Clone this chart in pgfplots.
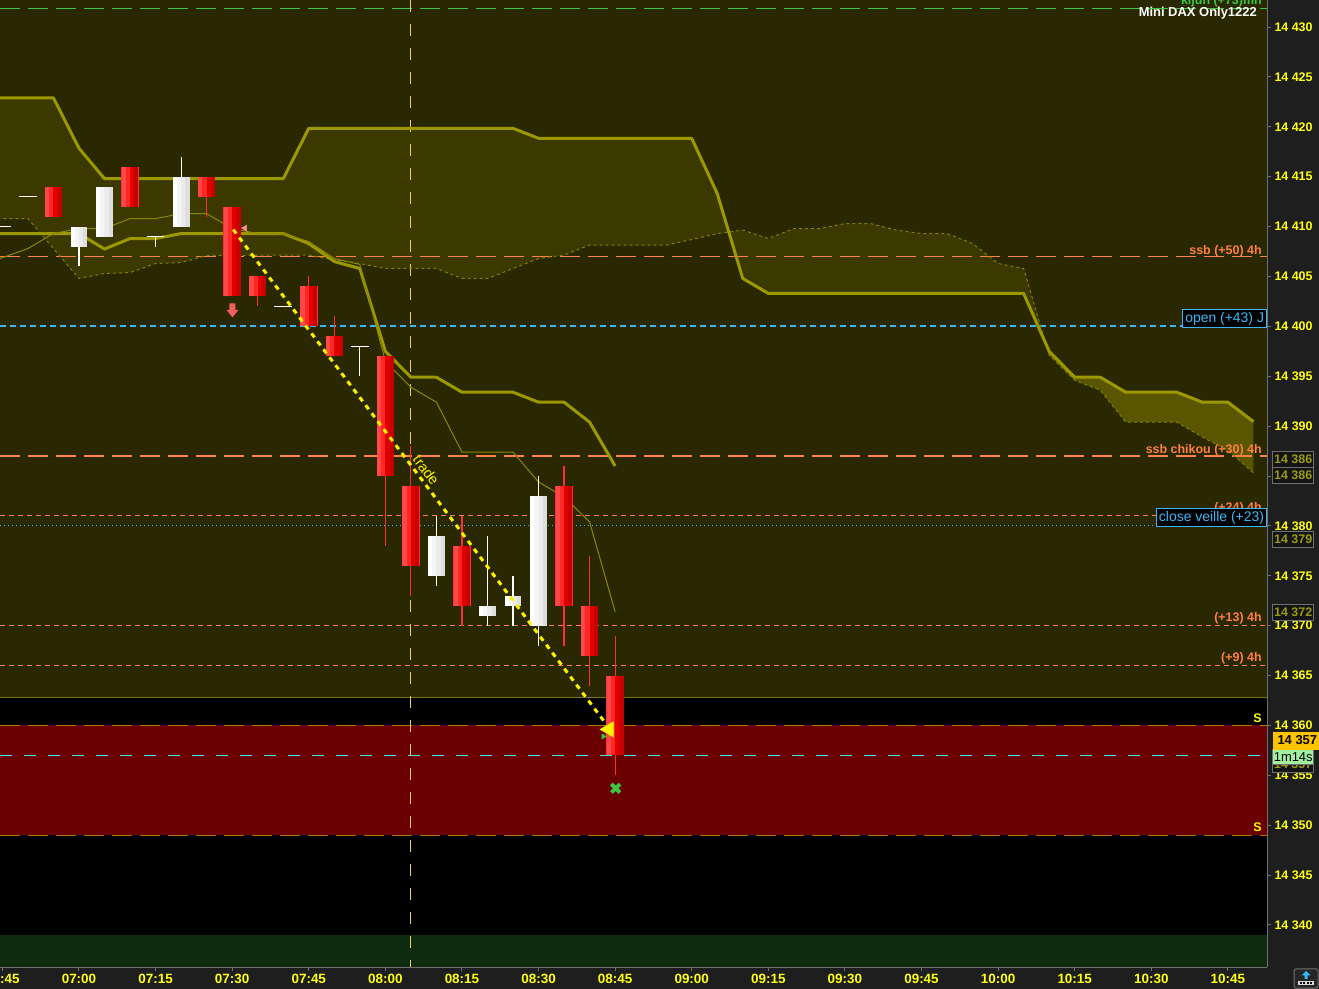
\documentclass[border=0pt]{standalone}
\usepackage{fontspec}
\setmainfont{Liberation Sans}
\usepackage{pgfplots}
\usepackage{pgfplotstable}
\pgfplotsset{compat=1.18}

\definecolor{axisbg}{HTML}{1E1E1E}
\definecolor{axisgray}{HTML}{707070}
\definecolor{olivebg}{HTML}{2A2800}
\definecolor{oliveedge}{HTML}{7A7620}
\definecolor{cloudA}{HTML}{3B3800}
\definecolor{cloudB}{HTML}{595500}
\definecolor{ssaline}{HTML}{9C9800}
\definecolor{ssbline}{HTML}{848000}
\definecolor{tenkanc}{HTML}{8C8700}
\definecolor{redzone}{HTML}{6B0000}
\definecolor{greenband}{HTML}{0F2B0F}
\definecolor{orangeline}{HTML}{FF8040}
\definecolor{bluec}{HTML}{3CB8F8}
\definecolor{cyanline}{HTML}{40E8F0}
\definecolor{goldline}{HTML}{B07800}
\definecolor{vline}{HTML}{F0D060}
\definecolor{tickyellow}{HTML}{FFFF10}
\definecolor{greenc}{HTML}{3CC83C}
\definecolor{redwick}{HTML}{FF3030}
\definecolor{tagtext}{HTML}{9A9A10}
\definecolor{arrowred}{HTML}{F06060}
\definecolor{timerbox}{HTML}{A0F0A0}
\definecolor{pricebox}{HTML}{FFC400}

\pgfdeclareplotmark{dnarrow}{%
  \pgfpathmoveto{\pgfpoint{-3bp}{7bp}}%
  \pgfpathlineto{\pgfpoint{3bp}{7bp}}%
  \pgfpathlineto{\pgfpoint{3bp}{0.5bp}}%
  \pgfpathlineto{\pgfpoint{6bp}{0.5bp}}%
  \pgfpathlineto{\pgfpoint{0bp}{-7bp}}%
  \pgfpathlineto{\pgfpoint{-6bp}{0.5bp}}%
  \pgfpathlineto{\pgfpoint{-3bp}{0.5bp}}%
  \pgfpathclose\pgfusepathqfill}

% Senkou span A (thick cloud edge)
\pgfplotstableread{
m p
-16 14422.9
-5 14422.9
0 14417.85
5 14414.8
40 14414.8
45 14419.85
85 14419.85
90 14418.85
120 14418.85
125 14413.3
130 14404.8
135 14403.3
185 14403.3
190 14397.5
195 14394.9
200 14394.9
205 14393.4
215 14393.4
220 14392.4
225 14392.4
230 14390.45
}\ssa

% Senkou span B (dashed cloud edge)
\pgfplotstableread{
m p
-16 14410.8
-10 14410.8
0 14404.8
5 14405.3
10 14405.4
15 14406.3
20 14406.4
25 14407.1
45 14407.15
50 14406.65
55 14406.3
60 14405.8
70 14405.8
75 14404.8
80 14404.8
85 14405.8
90 14406.8
95 14407.15
100 14408.15
115 14408.15
120 14408.7
125 14409.3
130 14409.65
135 14408.8
140 14409.8
145 14409.8
150 14410.3
155 14410.3
160 14409.65
165 14409.3
170 14409.3
175 14408.3
180 14406.3
185 14405.8
190 14397.1
195 14394.6
200 14393.6
205 14390.4
215 14390.4
220 14388.9
225 14387.6
230 14385.3
}\ssb

% cloud outlines (span A forward, span B back)
\pgfplotstableread{
m p
-16 14422.9
-5 14422.9
0 14417.85
5 14414.8
40 14414.8
45 14419.85
85 14419.85
90 14418.85
120 14418.85
125 14413.3
130 14404.8
135 14403.3
185 14403.3
190 14397.5
190 14397.1
185 14405.8
180 14406.3
175 14408.3
170 14409.3
165 14409.3
160 14409.65
155 14410.3
150 14410.3
145 14409.8
140 14409.8
135 14408.8
130 14409.65
125 14409.3
120 14408.7
115 14408.15
100 14408.15
95 14407.15
90 14406.8
85 14405.8
80 14404.8
75 14404.8
70 14405.8
60 14405.8
55 14406.3
50 14406.65
45 14407.15
25 14407.1
20 14406.4
15 14406.3
10 14405.4
5 14405.3
0 14404.8
-10 14410.8
-16 14410.8
}\cloudone

\pgfplotstableread{
m p
190 14397.5
195 14394.9
200 14394.9
205 14393.4
215 14393.4
220 14392.4
225 14392.4
230 14390.45
230 14385.3
225 14387.6
220 14388.9
215 14390.4
205 14390.4
200 14393.6
195 14394.6
190 14397.1
}\cloudtwo

\pgfplotstableread{
m p
-16 14409.3
0 14409.3
5 14407.75
10 14408.8
15 14408.8
20 14409.3
40 14409.3
45 14408.3
50 14406.5
55 14405.8
60 14397.5
65 14394.9
70 14394.9
75 14393.4
85 14393.4
90 14392.4
95 14392.4
100 14390.4
105 14386
}\kijun

\pgfplotstableread{
m p
-16 14406.7
-10 14407.8
-5 14409.3
0 14409.8
5 14409.8
10 14410.8
15 14410.8
20 14411.3
25 14411.3
30 14409.8
35 14409.3
40 14409.3
45 14408.5
50 14406.8
55 14406.2
60 14396.5
65 14393.9
70 14392.4
75 14387.4
85 14387.4
90 14384.4
95 14382.9
100 14380.4
105 14371.4
}\tenkan

% red candles: body open->close (minutes after 07:00)
\pgfplotstableread{
m p
-5 14414
-5 14411
nan nan
10 14416
10 14412
nan nan
25 14415
25 14413
nan nan
30 14412
30 14403
nan nan
35 14405
35 14403
nan nan
45 14404
45 14400
nan nan
50 14399
50 14397
nan nan
60 14397
60 14385
nan nan
65 14384
65 14376
nan nan
75 14378
75 14372
nan nan
95 14384
95 14372
nan nan
100 14372
100 14367
nan nan
105 14365
105 14357
}\redbody

% red candles: wick low->high
\pgfplotstableread{
m p
25 14411
25 14415
nan nan
35 14402
35 14405
nan nan
45 14400
45 14405
nan nan
50 14397
50 14401
nan nan
60 14378
60 14397
nan nan
65 14373
65 14388
nan nan
75 14370
75 14381
nan nan
95 14368
95 14386
nan nan
100 14364
100 14377
nan nan
105 14355
105 14369
}\redwickt

\pgfplotstableread{
m p
0 14408
0 14410
nan nan
5 14409
5 14414
nan nan
20 14410
20 14415
nan nan
70 14375
70 14379
nan nan
80 14371
80 14372
nan nan
85 14372
85 14373
nan nan
90 14370
90 14383
}\whitebody

\pgfplotstableread{
m p
0 14406
0 14410
nan nan
15 14408
15 14409
nan nan
20 14410
20 14417
nan nan
55 14395
55 14398
nan nan
70 14374
70 14381
nan nan
80 14370
80 14379
nan nan
85 14370
85 14375
nan nan
90 14368
90 14385
}\whitewickt

\pgfplotstableread{
m p
-15 14410
-10 14413
15 14409
40 14402
55 14398
}\doji

\newcommand\strip[4]{\addplot[#2, line width=#3, unbounded coords=jump] table[x expr=\thisrow{m}+(#1), y=p] {#4};}
\newcommand\levelline[2]{\addplot[#2] coordinates {(-15.47,#1) (232.66,#1)};}

\begin{document}
\begin{tikzpicture}
\fill[axisbg] (0,0) rectangle (1319bp,989bp);
\path[use as bounding box] (0,0) rectangle (1319bp,989bp);
\begin{axis}[
  at={(0bp,22bp)}, anchor=south west,
  scale only axis, width=1267bp, height=967bp,
  xmin=-15.47, xmax=232.66, ymin=14335.79, ymax=14432.71,
  axis x line*=bottom, axis y line*=right,
  axis line style={draw=axisgray, line width=1.2bp},
  tick align=outside, major tick length=4bp,
  tick style={draw=axisgray, line width=1bp},
  xtick={-15,0,...,225},
  xticklabels={06:45,07:00,07:15,07:30,07:45,08:00,08:15,08:30,08:45,09:00,09:15,09:30,09:45,10:00,10:15,10:30,10:45},
  ytick={14340,14345,...,14430},
  yticklabels={14 340,14 345,14 350,14 355,14 360,14 365,14 370,14 375,14 380,14 385,14 390,14 395,14 400,14 405,14 410,14 415,14 420,14 425,14 430},
  xticklabel style={font=\bfseries\fontsize{13.5}{15}\selectfont, text=tickyellow},
  yticklabel style={font=\bfseries\fontsize{12.5}{14}\selectfont, text=tickyellow},
  /pgf/number format/assume math mode=true,
]
% backgrounds
\fill[black] (axis cs:-15.47,14335.79) rectangle (axis cs:232.66,14432.71);
\fill[olivebg] (axis cs:-15.47,14362.85) rectangle (axis cs:232.66,14432.71);
\fill[redzone] (axis cs:-15.47,14349) rectangle (axis cs:232.66,14360);
\fill[greenband] (axis cs:-15.47,14335.79) rectangle (axis cs:232.66,14339);
\levelline{14362.85}{oliveedge, line width=1bp}

% cloud
\addplot[fill=cloudA, draw=none] table[x=m,y=p] {\cloudone};
\addplot[fill=cloudB, draw=none] table[x=m,y=p] {\cloudtwo};

% reference lines
\levelline{14431.9}{greenc, line width=1bp, dash pattern=on 20bp off 8bp}
\levelline{14407}{orangeline, line width=1.3bp, dash pattern=on 20bp off 8bp}
\levelline{14400}{bluec, line width=2.2bp, dash pattern=on 6bp off 4bp}
\levelline{14387}{orangeline, line width=1.3bp, dash pattern=on 20bp off 8bp}
\levelline{14381}{orangeline, line width=1bp, dash pattern=on 5bp off 4bp}
\levelline{14380}{bluec, line width=1bp, dash pattern=on 1.3bp off 2.7bp}
\levelline{14370}{orangeline, line width=1bp, dash pattern=on 5bp off 4bp}
\levelline{14366}{orangeline, line width=1bp, dash pattern=on 5bp off 4bp}
\levelline{14360}{goldline, line width=1bp, dash pattern=on 20bp off 8bp}
\levelline{14349}{goldline, line width=1bp, dash pattern=on 20bp off 8bp}
\levelline{14357}{cyanline, line width=1.5bp, dash pattern=on 12bp off 12bp}
\addplot[vline, line width=1.2bp, dash pattern=on 12bp off 12bp] coordinates {(65,14432.71) (65,14335.79)};

% ichimoku lines
\addplot[ssbline, line width=1bp, dash pattern=on 3bp off 3bp] table[x=m,y=p] {\ssb};
\addplot[ssaline, line width=3bp, line join=round] table[x=m,y=p] {\ssa};
\addplot[ssaline, line width=3bp, line join=round] table[x=m,y=p] {\kijun};
\addplot[tenkanc, line width=1bp] table[x=m,y=p] {\tenkan};

% candles
\strip{0}{redwick}{1.2bp}{\redwickt}
\strip{0}{white}{1.2bp}{\whitewickt}
\strip{0}{redwick}{17.5bp}{\redbody}
\strip{-1.2337}{red!72!white}{4.2bp}{\redbody}
\strip{-0.4112}{red!85!white}{4.2bp}{\redbody}
\strip{0.4112}{red!88!black}{4.2bp}{\redbody}
\strip{1.2337}{red!78!black}{4.2bp}{\redbody}
\strip{-1.2337}{white}{4.25bp}{\whitebody}
\strip{-0.4112}{white!96!black}{4.25bp}{\whitebody}
\strip{0.4112}{white!92!black}{4.25bp}{\whitebody}
\strip{1.2337}{white!87!black}{4.25bp}{\whitebody}
\addplot[only marks, mark=-, mark size=8.8bp, mark options={draw=white, line width=1.5bp}] table[x=m,y=p] {\doji};

% trade
\addplot[yellow, line width=3bp, dash pattern=on 5bp off 5bp] coordinates {(30.2,14409.7) (103,14360.3)};
\addplot[only marks, mark=triangle*, mark size=9bp, mark options={rotate=90, fill=yellow, draw=yellow}] coordinates {(103.8,14359.6)};
\addplot[only marks, mark=triangle*, mark size=3bp, mark options={rotate=-90, fill=greenc, draw=greenc}] coordinates {(102.7,14358.9)};
\addplot[only marks, mark=x, mark size=6bp, mark options={line width=3.8bp, draw=greenc}] coordinates {(105.1,14353.7)};
\addplot[only marks, mark=dnarrow, mark options={fill=arrowred}] coordinates {(30.06,14401.6)};
\addplot[only marks, mark=triangle*, mark size=3.5bp, mark options={rotate=90, fill=arrowred!70!white, draw=arrowred!70!white}] coordinates {(32.5,14409.85)};
\node[rotate=-53, text=yellow, font=\fontsize{14.5}{16}\selectfont, inner sep=0] at (axis cs:68.0,14385.6) {trade};

% right-side labels
\node[anchor=base east, inner sep=0, font=\bfseries\fontsize{12.5}{14}\selectfont, text=greenc] at (axis cs:231.66,14432.3) {kijun (+73)mn};
\node[anchor=base east, inner sep=0, font=\bfseries\fontsize{13}{15}\selectfont, text=white] at (axis cs:230.7,14431.03) {Mini DAX Only1222};
\node[anchor=base east, inner sep=0, font=\bfseries\fontsize{12.5}{14}\selectfont, text=orangeline] at (axis cs:231.66,14407.25) {ssb (+50) 4h};
\node[anchor=base east, inner sep=0, font=\bfseries\fontsize{12.5}{14}\selectfont, text=orangeline] at (axis cs:231.66,14387.3) {ssb chikou (+30) 4h};
\node[anchor=base east, inner sep=0, font=\bfseries\fontsize{12.5}{14}\selectfont, text=orangeline] at (axis cs:231.66,14381.4) {(+24) 4h};
\node[anchor=base east, inner sep=0, font=\bfseries\fontsize{12.5}{14}\selectfont, text=orangeline] at (axis cs:231.66,14370.4) {(+13) 4h};
\node[anchor=base east, inner sep=0, font=\bfseries\fontsize{12.5}{14}\selectfont, text=orangeline] at (axis cs:231.66,14366.4) {(+9) 4h};
\node[anchor=base east, inner sep=0, font=\bfseries\fontsize{12.5}{14}\selectfont, text=tickyellow] at (axis cs:231.66,14360.3) {S};
\node[anchor=base east, inner sep=0, font=\bfseries\fontsize{12.5}{14}\selectfont, text=tickyellow] at (axis cs:231.66,14349.35) {S};
\node[draw=bluec, fill=black, text=bluec, font=\fontsize{14}{15}\selectfont, inner xsep=2.5bp, inner ysep=0bp, minimum height=18bp, anchor=south east, line width=1bp] at (axis cs:232.66,14399.83) {open (+43) J};
\node[draw=bluec, fill=black, text=bluec, font=\fontsize{14}{15}\selectfont, inner xsep=2.5bp, inner ysep=0bp, minimum height=18bp, anchor=south east, line width=1bp] at (axis cs:232.66,14379.9) {close veille (+23)};

% anchor points of the value tags on the price scale
\coordinate (tA) at (axis cs:237.8,14386.65);
\coordinate (tB) at (axis cs:237.8,14385.05);
\coordinate (tC) at (axis cs:237.8,14378.64);
\coordinate (tD) at (axis cs:237.8,14371.3);
\coordinate (tE) at (axis cs:237.8,14356.09);
\coordinate (tF) at (axis cs:237.8,14356.84);
\coordinate (tG) at (axis cs:233.9,14358.49);
\end{axis}
\tikzset{tag/.style={draw=axisgray, fill=black!92!white, text=tagtext, minimum width=41bp, minimum height=15.5bp, inner sep=0, line width=1bp, font=\bfseries\fontsize{12.5}{14}\selectfont}}
\node[tag] at (tA) {14 386};
\node[tag] at (tB) {14 386};
\node[tag] at (tC) {14 379};
\node[tag] at (tD) {14 372};
\node[tag] at (tE) {14 357};
\node[tag, fill=timerbox, text=black, font=\fontsize{13}{14}\selectfont] at (tF) {1m14s};
\node[tag, fill=pricebox, draw=pricebox, text=black, minimum width=47bp, minimum height=17bp, anchor=west, font=\bfseries\fontsize{13}{14}\selectfont] at (tG) {14 357};
% small corner button
\draw[axisgray, fill=black!85!white, rounded corners=1.5bp, line width=1bp] (1294bp,1bp) rectangle (1318bp,20bp);
\fill[bluec] (1306bp,18bp) -- (1301.5bp,13.5bp) -- (1304.5bp,13.5bp) -- (1304.5bp,10bp) -- (1307.5bp,10bp) -- (1307.5bp,13.5bp) -- (1310.5bp,13.5bp) -- cycle;
\fill[white!85!black] (1298bp,4bp) rectangle (1314bp,8bp);
\foreach \q in {1299.5,1303,1306.5,1310} {\fill[black] (\q bp,5bp) rectangle (\q bp+2.2bp,7bp);}
\end{tikzpicture}
\end{document}
